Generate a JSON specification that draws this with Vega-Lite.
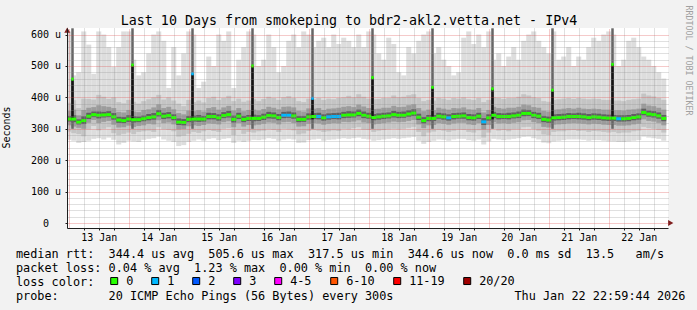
{
"$schema": "https://vega.github.io/schema/vega-lite/v6.json",
"width": 601, "height": 200,
"autosize": {"type": "none"},
"padding": {"left": 67, "top": 28, "right": 29, "bottom": 82},
"background": "#f2f2f2",
"config": {"view": {"stroke": null, "fill": "#ffffff"}, "font": "DejaVu Sans Mono"},
"datasets": {
"main": [
{"t":-1,"u":1,"a":265,"A":610,"b":291,"B":383,"c":311,"C":357,"d":323,"D":341,"m":331,"l":"0"},
{"t":1,"u":3,"a":262,"A":470,"b":286,"B":391,"c":307,"C":361,"d":321,"D":343,"m":331,"l":"0"},
{"t":3,"u":5,"a":255,"A":480,"b":283,"B":366,"c":303,"C":343,"d":314,"D":330,"m":321,"l":"0"},
{"t":5,"u":7,"a":258,"A":610,"b":276,"B":396,"c":300,"C":360,"d":315,"D":340,"m":326,"l":"0"},
{"t":7,"u":9,"a":262,"A":568,"b":298,"B":395,"c":319,"C":367,"d":331,"D":351,"m":340,"l":"0"},
{"t":9,"u":11,"a":268,"A":475,"b":309,"B":393,"c":328,"C":369,"d":337,"D":355,"m":345,"l":"0"},
{"t":11,"u":13,"a":270,"A":610,"b":295,"B":408,"c":318,"C":375,"d":333,"D":355,"m":343,"l":"0"},
{"t":13,"u":15,"a":266,"A":600,"b":300,"B":402,"c":322,"C":372,"d":336,"D":354,"m":344,"l":"0"},
{"t":15,"u":17,"a":272,"A":560,"b":305,"B":395,"c":325,"C":370,"d":337,"D":356,"m":345,"l":"0"},
{"t":17,"u":19,"a":265,"A":498,"b":286,"B":400,"c":313,"C":366,"d":329,"D":350,"m":338,"l":"0"},
{"t":19,"u":21,"a":250,"A":560,"b":280,"B":385,"c":304,"C":354,"d":319,"D":338,"m":328,"l":"0"},
{"t":21,"u":23,"a":255,"A":610,"b":284,"B":381,"c":305,"C":352,"d":318,"D":337,"m":326,"l":"0"},
{"t":23,"u":25,"a":262,"A":610,"b":288,"B":392,"c":310,"C":360,"d":322,"D":343,"m":331,"l":"0"},
{"t":25,"u":27,"a":260,"A":520,"b":283,"B":386,"c":306,"C":355,"d":320,"D":340,"m":329,"l":"0"},
{"t":27,"u":29,"a":258,"A":470,"b":290,"B":380,"c":309,"C":353,"d":321,"D":339,"m":329,"l":"0"},
{"t":29,"u":31,"a":265,"A":480,"b":292,"B":388,"c":311,"C":360,"d":324,"D":342,"m":332,"l":"0"},
{"t":31,"u":33,"a":268,"A":540,"b":294,"B":394,"c":316,"C":362,"d":327,"D":347,"m":336,"l":"0"},
{"t":33,"u":35,"a":270,"A":600,"b":290,"B":400,"c":314,"C":368,"d":329,"D":350,"m":338,"l":"0"},
{"t":35,"u":37,"a":275,"A":610,"b":305,"B":408,"c":327,"C":378,"d":339,"D":360,"m":348,"l":"0"},
{"t":37,"u":39,"a":266,"A":580,"b":298,"B":393,"c":318,"C":366,"d":331,"D":351,"m":340,"l":"0"},
{"t":39,"u":41,"a":262,"A":430,"b":296,"B":400,"c":320,"C":370,"d":333,"D":353,"m":342,"l":"0"},
{"t":41,"u":43,"a":258,"A":560,"b":292,"B":390,"c":314,"C":362,"d":327,"D":346,"m":336,"l":"0"},
{"t":43,"u":45,"a":245,"A":470,"b":275,"B":380,"c":298,"C":350,"d":312,"D":333,"m":321,"l":"0"},
{"t":45,"u":47,"a":248,"A":540,"b":278,"B":372,"c":299,"C":346,"d":311,"D":331,"m":320,"l":"0"},
{"t":47,"u":49,"a":258,"A":610,"b":284,"B":392,"c":308,"C":358,"d":321,"D":341,"m":330,"l":"0"},
{"t":49,"u":51,"a":262,"A":600,"b":290,"B":385,"c":311,"C":356,"d":323,"D":342,"m":331,"l":"0"},
{"t":51,"u":53,"a":266,"A":430,"b":287,"B":390,"c":309,"C":359,"d":322,"D":344,"m":331,"l":"0"},
{"t":53,"u":55,"a":262,"A":450,"b":292,"B":384,"c":312,"C":355,"d":323,"D":341,"m":331,"l":"0"},
{"t":55,"u":57,"a":268,"A":530,"b":296,"B":398,"c":317,"C":366,"d":330,"D":351,"m":339,"l":"0"},
{"t":57,"u":59,"a":270,"A":500,"b":293,"B":402,"c":316,"C":369,"d":330,"D":350,"m":339,"l":"0"},
{"t":59,"u":61,"a":264,"A":600,"b":290,"B":392,"c":314,"C":361,"d":326,"D":346,"m":335,"l":"0"},
{"t":61,"u":63,"a":268,"A":580,"b":300,"B":398,"c":321,"C":368,"d":334,"D":353,"m":342,"l":"0"},
{"t":63,"u":65,"a":270,"A":610,"b":302,"B":405,"c":324,"C":373,"d":336,"D":357,"m":345,"l":"0"},
{"t":65,"u":67,"a":255,"A":430,"b":280,"B":388,"c":305,"C":358,"d":320,"D":342,"m":330,"l":"0"},
{"t":67,"u":69,"a":262,"A":520,"b":296,"B":396,"c":318,"C":366,"d":331,"D":351,"m":340,"l":"0"},
{"t":69,"u":71,"a":258,"A":560,"b":284,"B":386,"c":307,"C":356,"d":321,"D":341,"m":330,"l":"0"},
{"t":71,"u":73,"a":262,"A":610,"b":290,"B":390,"c":312,"C":360,"d":325,"D":344,"m":333,"l":"0"},
{"t":73,"u":75,"a":265,"A":600,"b":288,"B":394,"c":311,"C":361,"d":324,"D":345,"m":333,"l":"0"},
{"t":75,"u":77,"a":264,"A":500,"b":292,"B":388,"c":313,"C":358,"d":325,"D":343,"m":333,"l":"0"},
{"t":77,"u":79,"a":266,"A":520,"b":294,"B":395,"c":316,"C":363,"d":328,"D":348,"m":337,"l":"0"},
{"t":79,"u":81,"a":270,"A":600,"b":298,"B":402,"c":320,"C":370,"d":333,"D":354,"m":342,"l":"0"},
{"t":81,"u":83,"a":268,"A":560,"b":296,"B":398,"c":319,"C":367,"d":332,"D":352,"m":341,"l":"0"},
{"t":83,"u":85,"a":262,"A":480,"b":290,"B":392,"c":314,"C":362,"d":327,"D":347,"m":336,"l":"0"},
{"t":85,"u":87,"a":266,"A":500,"b":300,"B":400,"c":321,"C":370,"d":334,"D":354,"m":343,"l":"1"},
{"t":87,"u":89,"a":268,"A":580,"b":298,"B":404,"c":322,"C":371,"d":335,"D":355,"m":343,"l":"1"},
{"t":89,"u":91,"a":266,"A":600,"b":295,"B":398,"c":318,"C":368,"d":332,"D":352,"m":341,"l":"0"},
{"t":91,"u":93,"a":255,"A":560,"b":282,"B":388,"c":307,"C":357,"d":321,"D":341,"m":330,"l":"0"},
{"t":93,"u":95,"a":256,"A":610,"b":285,"B":385,"c":308,"C":355,"d":322,"D":341,"m":330,"l":"0"},
{"t":95,"u":97,"a":264,"A":600,"b":293,"B":396,"c":316,"C":365,"d":329,"D":349,"m":338,"l":"0"},
{"t":97,"u":99,"a":266,"A":560,"b":296,"B":394,"c":318,"C":364,"d":331,"D":350,"m":339,"l":"0"},
{"t":99,"u":101,"a":268,"A":580,"b":294,"B":398,"c":317,"C":366,"d":330,"D":351,"m":339,"l":"1"},
{"t":101,"u":103,"a":262,"A":590,"b":290,"B":392,"c":313,"C":360,"d":326,"D":346,"m":335,"l":"0"},
{"t":103,"u":105,"a":265,"A":560,"b":292,"B":396,"c":316,"C":364,"d":329,"D":349,"m":338,"l":"1"},
{"t":105,"u":107,"a":266,"A":600,"b":295,"B":394,"c":318,"C":365,"d":331,"D":350,"m":339,"l":"1"},
{"t":107,"u":109,"a":268,"A":570,"b":293,"B":398,"c":317,"C":367,"d":330,"D":351,"m":339,"l":"1"},
{"t":109,"u":111,"a":270,"A":590,"b":300,"B":400,"c":322,"C":370,"d":334,"D":354,"m":343,"l":"0"},
{"t":111,"u":113,"a":268,"A":580,"b":298,"B":405,"c":321,"C":372,"d":335,"D":356,"m":344,"l":"0"},
{"t":113,"u":115,"a":270,"A":560,"b":302,"B":400,"c":323,"C":369,"d":336,"D":355,"m":344,"l":"0"},
{"t":115,"u":117,"a":272,"A":600,"b":305,"B":410,"c":327,"C":377,"d":340,"D":361,"m":349,"l":"0"},
{"t":117,"u":119,"a":268,"A":560,"b":297,"B":402,"c":320,"C":371,"d":334,"D":355,"m":343,"l":"0"},
{"t":119,"u":121,"a":266,"A":610,"b":296,"B":396,"c":318,"C":366,"d":332,"D":351,"m":340,"l":"0"},
{"t":121,"u":123,"a":262,"A":600,"b":290,"B":394,"c":314,"C":363,"d":327,"D":347,"m":336,"l":"0"},
{"t":123,"u":125,"a":264,"A":540,"b":294,"B":395,"c":316,"C":364,"d":329,"D":349,"m":338,"l":"0"},
{"t":125,"u":127,"a":266,"A":520,"b":296,"B":398,"c":318,"C":367,"d":331,"D":351,"m":340,"l":"0"},
{"t":127,"u":129,"a":268,"A":590,"b":298,"B":398,"c":320,"C":367,"d":333,"D":352,"m":341,"l":"0"},
{"t":129,"u":131,"a":270,"A":570,"b":300,"B":406,"c":323,"C":373,"d":336,"D":357,"m":345,"l":"0"},
{"t":131,"u":133,"a":268,"A":480,"b":298,"B":400,"c":321,"C":369,"d":334,"D":354,"m":343,"l":"0"},
{"t":133,"u":135,"a":270,"A":470,"b":300,"B":402,"c":322,"C":370,"d":335,"D":355,"m":343,"l":"0"},
{"t":135,"u":137,"a":272,"A":560,"b":303,"B":407,"c":325,"C":375,"d":338,"D":359,"m":347,"l":"0"},
{"t":137,"u":139,"a":274,"A":540,"b":306,"B":410,"c":328,"C":378,"d":341,"D":362,"m":350,"l":"0"},
{"t":139,"u":141,"a":262,"A":580,"b":290,"B":398,"c":314,"C":366,"d":328,"D":348,"m":337,"l":"0"},
{"t":141,"u":143,"a":252,"A":600,"b":276,"B":388,"c":302,"C":356,"d":317,"D":337,"m":326,"l":"0"},
{"t":143,"u":145,"a":258,"A":610,"b":288,"B":392,"c":311,"C":361,"d":324,"D":344,"m":333,"l":"0"},
{"t":145,"u":147,"a":262,"A":540,"b":291,"B":390,"c":312,"C":359,"d":325,"D":344,"m":333,"l":"0"},
{"t":147,"u":149,"a":266,"A":560,"b":296,"B":398,"c":318,"C":367,"d":332,"D":351,"m":340,"l":"0"},
{"t":149,"u":151,"a":265,"A":520,"b":294,"B":396,"c":316,"C":364,"d":329,"D":349,"m":338,"l":"0"},
{"t":151,"u":153,"a":262,"A":500,"b":290,"B":392,"c":313,"C":361,"d":326,"D":346,"m":335,"l":"1"},
{"t":153,"u":155,"a":266,"A":470,"b":294,"B":398,"c":317,"C":366,"d":330,"D":350,"m":339,"l":"0"},
{"t":155,"u":157,"a":268,"A":480,"b":297,"B":396,"c":319,"C":365,"d":332,"D":351,"m":340,"l":"0"},
{"t":157,"u":159,"a":268,"A":590,"b":296,"B":400,"c":319,"C":368,"d":332,"D":352,"m":341,"l":"0"},
{"t":159,"u":161,"a":264,"A":610,"b":290,"B":394,"c":314,"C":362,"d":327,"D":347,"m":336,"l":"0"},
{"t":161,"u":163,"a":262,"A":570,"b":288,"B":392,"c":312,"C":361,"d":326,"D":346,"m":335,"l":"0"},
{"t":163,"u":165,"a":266,"A":600,"b":295,"B":398,"c":318,"C":366,"d":331,"D":351,"m":340,"l":"0"},
{"t":165,"u":167,"a":250,"A":560,"b":272,"B":385,"c":298,"C":352,"d":312,"D":334,"m":322,"l":"1"},
{"t":167,"u":169,"a":260,"A":610,"b":288,"B":392,"c":312,"C":360,"d":326,"D":346,"m":335,"l":"0"},
{"t":169,"u":171,"a":268,"A":520,"b":300,"B":400,"c":321,"C":370,"d":334,"D":354,"m":343,"l":"0"},
{"t":171,"u":173,"a":266,"A":540,"b":294,"B":398,"c":317,"C":366,"d":330,"D":350,"m":339,"l":"0"},
{"t":173,"u":175,"a":264,"A":500,"b":296,"B":395,"c":318,"C":364,"d":331,"D":349,"m":339,"l":"0"},
{"t":175,"u":177,"a":266,"A":530,"b":292,"B":398,"c":316,"C":367,"d":330,"D":351,"m":339,"l":"0"},
{"t":177,"u":179,"a":268,"A":560,"b":298,"B":398,"c":319,"C":367,"d":333,"D":352,"m":341,"l":"0"},
{"t":179,"u":181,"a":270,"A":520,"b":298,"B":402,"c":321,"C":370,"d":334,"D":355,"m":343,"l":"0"},
{"t":181,"u":183,"a":274,"A":580,"b":305,"B":410,"c":327,"C":377,"d":340,"D":361,"m":349,"l":"0"},
{"t":183,"u":185,"a":275,"A":600,"b":306,"B":406,"c":328,"C":375,"d":341,"D":360,"m":349,"l":"0"},
{"t":185,"u":187,"a":270,"A":610,"b":299,"B":400,"c":321,"C":369,"d":334,"D":354,"m":343,"l":"0"},
{"t":187,"u":189,"a":266,"A":580,"b":294,"B":398,"c":318,"C":367,"d":331,"D":351,"m":340,"l":"0"},
{"t":189,"u":191,"a":256,"A":560,"b":282,"B":388,"c":306,"C":357,"d":321,"D":341,"m":330,"l":"0"},
{"t":191,"u":193,"a":254,"A":540,"b":280,"B":386,"c":304,"C":355,"d":319,"D":339,"m":328,"l":"0"},
{"t":193,"u":195,"a":260,"A":610,"b":290,"B":392,"c":313,"C":361,"d":326,"D":346,"m":335,"l":"0"},
{"t":195,"u":197,"a":262,"A":520,"b":292,"B":394,"c":314,"C":362,"d":327,"D":347,"m":336,"l":"0"},
{"t":197,"u":199,"a":264,"A":530,"b":292,"B":396,"c":315,"C":364,"d":328,"D":348,"m":337,"l":"0"},
{"t":199,"u":201,"a":266,"A":560,"b":295,"B":398,"c":317,"C":366,"d":330,"D":350,"m":339,"l":"0"},
{"t":201,"u":203,"a":266,"A":500,"b":296,"B":395,"c":318,"C":364,"d":331,"D":349,"m":339,"l":"0"},
{"t":203,"u":205,"a":266,"A":530,"b":293,"B":398,"c":317,"C":367,"d":330,"D":351,"m":339,"l":"0"},
{"t":205,"u":207,"a":265,"A":520,"b":294,"B":396,"c":316,"C":364,"d":329,"D":349,"m":338,"l":"0"},
{"t":207,"u":209,"a":262,"A":560,"b":290,"B":394,"c":314,"C":363,"d":327,"D":347,"m":336,"l":"0"},
{"t":209,"u":211,"a":264,"A":590,"b":293,"B":396,"c":316,"C":364,"d":329,"D":349,"m":338,"l":"0"},
{"t":211,"u":213,"a":264,"A":580,"b":292,"B":395,"c":315,"C":363,"d":328,"D":348,"m":337,"l":"0"},
{"t":213,"u":215,"a":262,"A":600,"b":290,"B":392,"c":313,"C":361,"d":326,"D":346,"m":335,"l":"0"},
{"t":215,"u":217,"a":260,"A":610,"b":288,"B":392,"c":312,"C":361,"d":325,"D":345,"m":334,"l":"0"},
{"t":217,"u":219,"a":260,"A":600,"b":290,"B":390,"c":312,"C":359,"d":325,"D":344,"m":334,"l":"0"},
{"t":219,"u":221,"a":258,"A":500,"b":286,"B":390,"c":310,"C":359,"d":323,"D":343,"m":332,"l":"1"},
{"t":221,"u":223,"a":258,"A":520,"b":288,"B":388,"c":310,"C":358,"d":323,"D":343,"m":332,"l":"0"},
{"t":223,"u":225,"a":260,"A":580,"b":288,"B":392,"c":311,"C":361,"d":324,"D":344,"m":333,"l":"0"},
{"t":225,"u":227,"a":262,"A":590,"b":292,"B":394,"c":314,"C":362,"d":327,"D":347,"m":336,"l":"0"},
{"t":227,"u":229,"a":264,"A":560,"b":294,"B":396,"c":316,"C":364,"d":329,"D":349,"m":338,"l":"0"},
{"t":229,"u":231,"a":275,"A":530,"b":306,"B":412,"c":330,"C":380,"d":343,"D":364,"m":352,"l":"0"},
{"t":231,"u":233,"a":272,"A":520,"b":302,"B":406,"c":325,"C":374,"d":338,"D":358,"m":347,"l":"0"},
{"t":233,"u":235,"a":270,"A":500,"b":300,"B":403,"c":323,"C":372,"d":336,"D":356,"m":345,"l":"0"},
{"t":235,"u":237,"a":268,"A":480,"b":296,"B":398,"c":319,"C":367,"d":332,"D":352,"m":341,"l":"0"},
{"t":237,"u":239,"a":262,"A":460,"b":288,"B":392,"c":311,"C":361,"d":324,"D":344,"m":333,"l":"0"}
],
"spk": [
{"t":1,"u":2,"lo":300,"hi":620,"k":330,"m":458,"l":"0"},
{"t":25,"u":26,"lo":300,"hi":620,"k":330,"m":503,"l":"0"},
{"t":49,"u":50,"lo":300,"hi":620,"k":330,"m":475,"l":"1"},
{"t":73,"u":74,"lo":300,"hi":620,"k":330,"m":500,"l":"0"},
{"t":97,"u":98,"lo":300,"hi":620,"k":330,"m":397,"l":"1"},
{"t":121,"u":122,"lo":300,"hi":620,"k":330,"m":463,"l":"0"},
{"t":145,"u":146,"lo":300,"hi":620,"k":330,"m":432,"l":"0"},
{"t":169,"u":170,"lo":300,"hi":620,"k":330,"m":427,"l":"0"},
{"t":193,"u":194,"lo":300,"hi":620,"k":330,"m":423,"l":"0"},
{"t":217,"u":218,"lo":300,"hi":620,"k":330,"m":505,"l":"0"}
],
"arr": [
{"x":-0.6,"y":614,"s":"u"},
{"x":240.8,"y":0,"s":"r"}
]
},
"resolve": {"axis": {"x": "independent", "y": "independent"}},
"layer": [
{"data": {"name": "main"}, "mark": {"type": "rect", "color": "#dddddd", "clip": true},
 "encoding": {
  "x": {"field": "t", "type": "quantitative", "scale": {"domain": [-0.7, 239.7], "nice": false, "zero": false},
   "axis": {"orient": "bottom", "values": [6,12,18,30,36,42,54,60,66,78,84,90,102,108,114,126,132,138,150,156,162,174,180,186,198,204,210,222,228,234],
    "labelExpr": "datum.value % 24 == 12 ? (13 + floor(datum.value / 24)) + '\u00a0Jan' : ''",
    "labelFont": "DejaVu Sans Mono", "labelFontSize": 10, "labelColor": "#000000", "labelBaseline": "alphabetic", "labelPadding": 10,
    "labelOverlap": false, "labelFlush": false, "labelBound": false,
    "tickSize": 2, "tickColor": "#1f1f1f", "domainColor": "#1f1f1f", "domainWidth": 1,
    "grid": true, "gridColor": "#8f8f8f", "gridOpacity": 0.55, "gridDash": [1, 1], "gridWidth": 1, "zindex": 1,
    "title": ["median\u00a0rtt:\u00a0\u00a0344.4\u00a0us\u00a0avg\u00a0\u00a0505.6\u00a0us\u00a0max\u00a0\u00a0317.5\u00a0us\u00a0min\u00a0\u00a0344.6\u00a0us\u00a0now\u00a0\u00a00.0\u00a0ms\u00a0sd\u00a0\u00a013.5\u00a0\u00a0\u00a0am/s",
              "packet\u00a0loss:\u00a00.04\u00a0%\u00a0avg\u00a0\u00a01.23\u00a0%\u00a0max\u00a0\u00a00.00\u00a0%\u00a0min\u00a0\u00a00.00\u00a0%\u00a0now",
              "loss\u00a0color:",
              "probe:\u00a0\u00a0\u00a0\u00a0\u00a0\u00a0\u00a020\u00a0ICMP\u00a0Echo\u00a0Pings\u00a0(56\u00a0Bytes)\u00a0every\u00a0300s\u00a0\u00a0\u00a0\u00a0\u00a0\u00a0\u00a0\u00a0\u00a0\u00a0\u00a0\u00a0\u00a0\u00a0\u00a0\u00a0\u00a0Thu\u00a0Jan\u00a022\u00a022:59:44\u00a02026"],
    "titleX": -51.5, "titleY": 29.3, "titleAlign": "left", "titleAngle": 0, "titleBaseline": "alphabetic",
    "titleFont": "DejaVu Sans Mono", "titleFontSize": 11.83, "titleFontWeight": "normal", "titleColor": "#000000", "titleLineHeight": 14.2, "titleLimit": 2000}},
  "x2": {"field": "u"},
  "y": {"field": "a", "type": "quantitative", "scale": {"domain": [0, 605], "nice": false, "zero": false},
   "axis": {"orient": "left", "values": [0,100,200,300,400,500,600],
    "labelExpr": "datum.value === 0 ? '0' : datum.value + '\u00a0u'",
    "labelFont": "DejaVu Sans Mono", "labelFontSize": 10, "labelColor": "#000000",
    "labelPadding": {"condition": {"test": "datum.value === 0", "value": 16.5}, "value": 4.5},
    "labelBaseline": "middle",
    "labelOverlap": false, "labelFlush": false, "labelBound": false,
    "tickSize": 2, "tickColor": "#1f1f1f", "domainColor": "#1f1f1f", "domainWidth": 1,
    "grid": true, "gridColor": "#de4f4f", "gridOpacity": 0.6, "gridDash": [1, 1], "gridWidth": 1, "zindex": 1,
    "title": "Seconds", "titleX": -61, "titleY": 99, "titleAngle": -90, "titleAlign": "center", "titleBaseline": "middle",
    "titleFont": "DejaVu Sans Mono", "titleFontSize": 10, "titleFontWeight": "normal", "titleColor": "#000000"}},
  "y2": {"field": "A"}}},
{"data": {"name": "main"}, "mark": {"type": "rect", "color": "#c4c4c4", "clip": true},
 "encoding": {
  "x": {"field": "t", "type": "quantitative",
   "axis": {"orient": "top", "values": [0,24,48,72,96,120,144,168,192,216], "labels": false, "ticks": false, "domain": false,
    "grid": true, "gridColor": "#de4f4f", "gridOpacity": 0.6, "gridDash": [1, 1], "gridWidth": 1, "zindex": 1,
    "title": "Last 10 Days from smokeping to bdr2-akl2.vetta.net - IPv4", "titleX": 281.5, "titleY": -3.7, "titleAlign": "center", "titleAngle": 0,
    "titleBaseline": "alphabetic", "titleFont": "DejaVu Sans Mono", "titleFontSize": 13.3, "titleFontWeight": "normal", "titleColor": "#000000", "titleLimit": 2000}},
  "x2": {"field": "u"},
  "y": {"field": "b", "type": "quantitative",
   "axis": {"orient": "right", "values": [20,40,60,80,120,140,160,180,220,240,260,280,320,340,360,380,420,440,460,480,520,540,560,580],
    "labels": false, "ticks": false, "domain": false,
    "grid": true, "gridColor": "#8f8f8f", "gridOpacity": 0.55, "gridDash": [1, 1], "gridWidth": 1, "zindex": 1,
    "title": "RRDTOOL / TOBI OETIKER", "titleX": 19.5, "titleY": 32, "titleAngle": 90, "titleAlign": "center", "titleBaseline": "middle",
    "titleFont": "DejaVu Sans Mono", "titleFontSize": 8.3, "titleFontWeight": "normal", "titleColor": "#a0a0a0"}},
  "y2": {"field": "B"}}},
{"data": {"name": "main"}, "mark": {"type": "rect", "color": "#9c9c9c", "clip": true},
 "encoding": {"x": {"field": "t", "type": "quantitative", "axis": null}, "x2": {"field": "u"},
  "y": {"field": "c", "type": "quantitative", "axis": null}, "y2": {"field": "C"}}},
{"data": {"name": "main"}, "mark": {"type": "rect", "color": "#606060", "clip": true},
 "encoding": {"x": {"field": "t", "type": "quantitative", "axis": null}, "x2": {"field": "u"},
  "y": {"field": "d", "type": "quantitative", "axis": null}, "y2": {"field": "D"}}},
{"data": {"name": "spk"}, "mark": {"type": "rect", "color": "#666666", "clip": true},
 "encoding": {"x": {"field": "t", "type": "quantitative", "axis": null}, "x2": {"field": "u"},
  "y": {"field": "lo", "type": "quantitative", "axis": null}, "y2": {"field": "hi"}}},
{"data": {"name": "spk"}, "mark": {"type": "rect", "color": "#141414", "clip": true},
 "encoding": {"x": {"field": "t", "type": "quantitative", "axis": null}, "x2": {"field": "u"},
  "y": {"field": "k", "type": "quantitative", "axis": null}, "y2": {"field": "m"}}},
{"data": {"name": "main"}, "mark": {"type": "bar", "orient": "horizontal", "size": 3, "clip": true},
 "encoding": {"x": {"field": "t", "type": "quantitative", "axis": null}, "x2": {"field": "u"},
  "y": {"field": "m", "type": "quantitative", "axis": null},
  "color": {"field": "l", "type": "nominal",
   "scale": {"domain": ["0","1","2","3","4-5","6-10","11-19","20/20"], "range": ["#26ff00","#00b8ff","#0059ff","#7e00ff","#ff00ff","#ff5500","#ff0000","#a00000"]},
   "legend": {"orient": "none", "legendX": 41.3, "legendY": 247, "direction": "horizontal", "title": null,
    "symbolType": "square", "symbolSize": 49, "symbolStrokeColor": "#000000", "symbolStrokeWidth": 1, "symbolOpacity": 1,
    "labelFont": "DejaVu Sans Mono", "labelFontSize": 11.83, "labelColor": "#000000", "labelOffset": 6, "columnPadding": 16, "padding": 0, "offset": 0,
    "encode": {"symbols": {"update": {"stroke": {"value": "#000000"}, "strokeWidth": {"value": 1}}}}}}}},
{"data": {"name": "spk"}, "mark": {"type": "bar", "orient": "horizontal", "size": 3, "clip": true},
 "encoding": {"x": {"field": "t", "type": "quantitative", "axis": null}, "x2": {"field": "u"},
  "y": {"field": "m", "type": "quantitative", "axis": null},
  "color": {"field": "l", "type": "nominal"}}},
{"data": {"name": "arr"}, "mark": {"type": "point", "filled": true, "color": "#801f1f", "opacity": 1, "size": 36, "clip": false},
 "encoding": {"x": {"field": "x", "type": "quantitative", "axis": null},
  "y": {"field": "y", "type": "quantitative", "axis": null},
  "shape": {"field": "s", "type": "nominal", "scale": {"domain": ["u","r"], "range": ["triangle-up","triangle-right"]}, "legend": null}}}
]
}
